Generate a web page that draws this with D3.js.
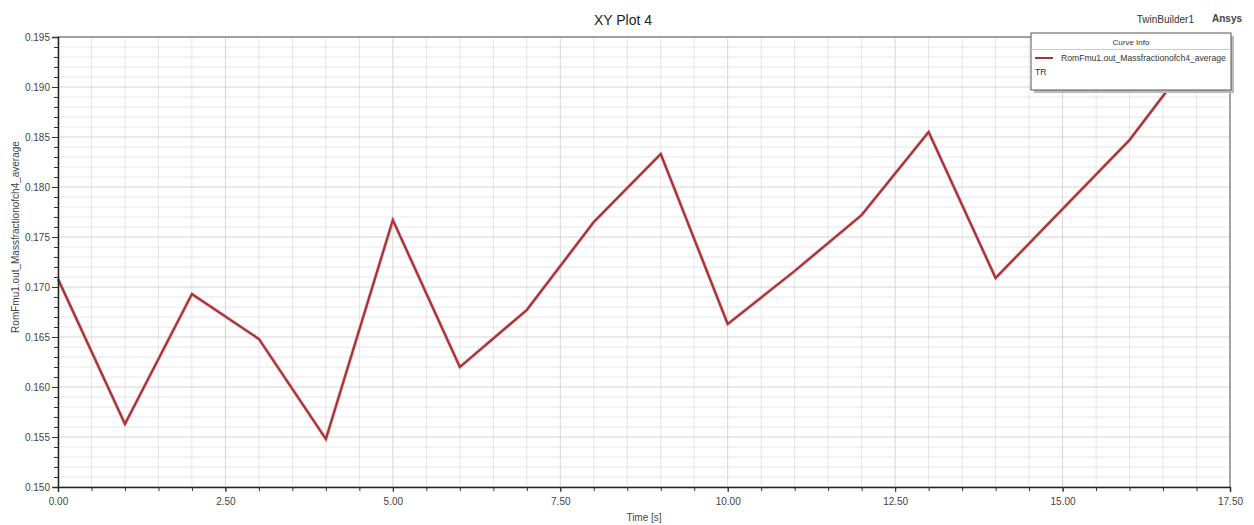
<!DOCTYPE html>
<html>
<head>
<meta charset="utf-8">
<script src="https://cdn.jsdelivr.net/npm/d3@7"></script>
<style>
body { margin: 0; background: white; }
svg { font-family: "Liberation Sans", Arial, sans-serif; }
.tick text { fill: #444; font-size: 10px; }
</style>
</head>
<body>
<script>

// time [s] and the curve value at each sample
const times = [0, 1, 2, 3, 4, 5, 6, 7, 8, 9, 10, 11, 12, 13, 14, 15, 16, 17];
const values = [0.1708, 0.1563, 0.1693, 0.1648, 0.1548, 0.1767, 0.1620, 0.1677, 0.1765,
                0.1833, 0.1663, 0.1716, 0.1772, 0.1855, 0.1709, 0.1778, 0.1847, 0.1935];
const xTicks = [0, 2.5, 5, 7.5, 10, 12.5, 15, 17.5];
const yTicks = [0.150, 0.155, 0.160, 0.165, 0.170, 0.175, 0.180, 0.185, 0.190, 0.195];
const seriesName = "RomFmu1.out_Massfractionofch4_average";

const W = 1254, H = 525;
const svg = d3.select("body").append("svg").attr("width", W).attr("height", H);

const margin = {top: 37, right: 24, bottom: 38, left: 58};
const width = W - margin.left - margin.right;
const height = H - margin.top - margin.bottom;
const g = svg.append("g").attr("transform", `translate(${margin.left}, ${margin.top})`);

const x = d3.scaleLinear().domain([0, 17.5]).range([0, width]);
const y = d3.scaleLinear().domain([0.150, 0.195]).range([height, 0]);

const xMinor = d3.range(0, 17.5001, 0.5);
const yMinor = d3.range(0, 46).map(i => 0.150 + i * 0.001);

// grid
g.append("g").selectAll("line").data(xMinor).enter().append("line")
  .attr("x1", d => x(d)).attr("x2", d => x(d))
  .attr("y1", 0).attr("y2", height)
  .attr("stroke", (d, i) => i % 5 === 0 ? "#d4d4d4" : "#e6e6e6")
  .attr("stroke-width", 1);
g.append("g").selectAll("line").data(yMinor).enter().append("line")
  .attr("x1", 0).attr("x2", width)
  .attr("y1", d => y(d)).attr("y2", d => y(d))
  .attr("stroke", (d, i) => i % 5 === 0 ? "#d4d4d4" : "#e6e6e6")
  .attr("stroke-width", 1);

// frame top/right
g.append("line").attr("x1", 0).attr("x2", width).attr("y1", 0).attr("y2", 0)
  .attr("stroke", "#888").attr("stroke-width", 1.5);
g.append("line").attr("x1", width).attr("x2", width).attr("y1", 0).attr("y2", height)
  .attr("stroke", "#777").attr("stroke-width", 1.2);

// curve
const line = d3.line().x((d, i) => x(times[i])).y(d => y(d));
g.append("path").datum(values)
  .attr("fill", "none").attr("stroke", "#f0b0b0").attr("stroke-width", 3.4)
  .attr("stroke-linejoin", "miter").attr("d", line);
g.append("path").datum(values)
  .attr("fill", "none").attr("stroke", "#a2343a").attr("stroke-width", 2.2)
  .attr("stroke-linejoin", "miter").attr("d", line);

// axes
const xAxis = g.append("g").attr("transform", `translate(0, ${height})`)
  .call(d3.axisBottom(x).tickValues(xTicks).tickFormat(d3.format(".2f")).tickSize(5).tickPadding(6));
g.append("g").attr("transform", `translate(0, ${height})`)
  .call(d3.axisBottom(x).tickValues(xMinor).tickFormat("").tickSize(4))
  .call(a => a.select(".domain").remove());
const yAxis = g.append("g")
  .call(d3.axisLeft(y).tickValues(yTicks).tickFormat(d3.format(".3f")).tickSize(6).tickPadding(2));
g.append("g")
  .call(d3.axisLeft(y).tickValues(yMinor).tickFormat("").tickSize(4))
  .call(a => a.select(".domain").remove());
g.selectAll(".domain").attr("stroke", "#222").attr("stroke-width", 1.5);
g.selectAll(".tick line").attr("stroke", "#333");

// labels
svg.append("text").attr("x", 623).attr("y", 25).attr("text-anchor", "middle")
  .attr("font-size", 14).attr("fill", "#222").text("XY Plot 4");
svg.append("text").attr("x", margin.left + width / 2).attr("y", 521).attr("text-anchor", "middle")
  .attr("font-size", 10).attr("fill", "#444").text("Time [s]");
svg.append("text").attr("transform", `translate(19, ${margin.top + height / 2 - 25}) rotate(-90)`)
  .attr("text-anchor", "middle").attr("font-size", 10).attr("fill", "#444").text(seriesName);
svg.append("text").attr("x", 1194).attr("y", 23).attr("text-anchor", "end")
  .attr("font-size", 10).attr("fill", "#333").text("TwinBuilder1");
svg.append("text").attr("x", 1212).attr("y", 22)
  .attr("font-size", 10).attr("font-weight", "bold").attr("fill", "#444").text("Ansys");

// legend
const lg = svg.append("g").attr("transform", "translate(1031, 33)");
lg.append("rect").attr("x", 3).attr("y", 3).attr("width", 200).attr("height", 57).attr("fill", "#bbb");
lg.append("rect").attr("width", 200).attr("height", 57).attr("fill", "white")
  .attr("stroke", "#555").attr("stroke-width", 1);
lg.append("text").attr("x", 100).attr("y", 12).attr("text-anchor", "middle")
  .attr("font-size", 8).attr("fill", "#333").text("Curve Info");
lg.append("line").attr("x1", 0).attr("x2", 200).attr("y1", 16.5).attr("y2", 16.5)
  .attr("stroke", "#ccc");
lg.append("line").attr("x1", 4).attr("x2", 22).attr("y1", 25).attr("y2", 25)
  .attr("stroke", "#a2343a").attr("stroke-width", 2);
lg.append("text").attr("x", 30).attr("y", 28).attr("font-size", 8.6).attr("fill", "#333").text(seriesName);
lg.append("text").attr("x", 4).attr("y", 42).attr("font-size", 8.6).attr("fill", "#333").text("TR");

</script>
</body>
</html>
